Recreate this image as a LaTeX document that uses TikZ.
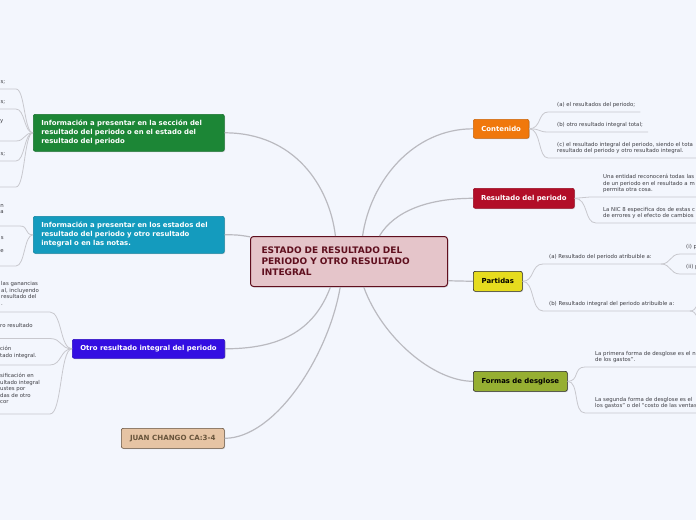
\documentclass[tikz,border=0pt]{standalone}
\usepackage{fontspec}
\setmainfont{DejaVu Sans}
\usepackage{tikz}
\usetikzlibrary{shadows}
\definecolor{bgblue}{RGB}{243,246,253}
\definecolor{linkgray}{RGB}{200,200,206}
\definecolor{trunkgray}{RGB}{186,186,192}
\definecolor{leafgray}{RGB}{62,62,68}
\definecolor{maroonline}{RGB}{95,15,30}
\definecolor{pinkfill}{RGB}{229,197,202}
\definecolor{boxgreen}{RGB}{28,134,54}
\definecolor{boxteal}{RGB}{20,155,190}
\definecolor{boxviolet}{RGB}{52,14,226}
\definecolor{boxtan}{RGB}{230,196,164}
\definecolor{tanline}{RGB}{100,80,60}
\definecolor{tantext}{RGB}{105,85,60}
\definecolor{boxorange}{RGB}{240,120,12}
\definecolor{boxcrimson}{RGB}{178,14,40}
\definecolor{boxyellow}{RGB}{230,220,30}
\definecolor{boxolive}{RGB}{150,175,50}

\begin{document}
\begin{tikzpicture}[
  x=1pt, y=-1pt,
  topic/.style={draw, rounded corners=2pt, anchor=north west, inner xsep=8pt, inner ysep=0pt,
                font=\fontsize{6.9}{9}\selectfont\bfseries, text=white, line width=0.6pt,
                drop shadow={shadow xshift=0.8pt, shadow yshift=-0.8pt, opacity=0.3}},
  leaf/.style={inner sep=0pt, text depth=1.3pt, align=left,
               font=\fontsize{5.4}{6.6}\selectfont, text=leafgray},
  trunk/.style={draw=trunkgray, line width=1.2pt},
  branch/.style={draw=linkgray, line width=0.8pt}
]
  \fill[bgblue] (0,0) rectangle (696,520);
  \useasboundingbox (0,0) rectangle (696,520);

  % main topics
  \node[topic, fill=pinkfill, draw=maroonline, line width=1pt, rounded corners=3pt, text=maroonline,
        font=\fontsize{9}{11}\selectfont\bfseries, inner xsep=11pt, minimum width=197pt,
        minimum height=50pt, text width=175pt, align=left] (centro) at (250,236)
    {ESTADO DE RESULTADO DEL\\PERIODO Y OTRO RESULTADO\\INTEGRAL};

  \node[topic, fill=boxgreen, draw=boxgreen!85!black, minimum width=191pt, minimum height=37pt,
        text width=175pt, align=left] (infoseccion) at (33,114)
    {Información a presentar en la sección del\\resultado del periodo o en el estado del\\resultado del periodo};
  \node[topic, fill=boxteal, draw=boxteal!85!black, minimum width=191pt, minimum height=37pt,
        text width=175pt, align=left] (infoestados) at (33,216)
    {Información a presentar en los estados del\\resultado del periodo y otro resultado\\integral o en las notas.};
  \node[topic, fill=boxviolet, draw=boxviolet!85!black, minimum width=152pt, minimum height=19pt] (otroresultado) at (72,339)
    {Otro resultado integral del periodo};
  \node[topic, fill=boxtan, draw=tanline, text=tantext, font=\fontsize{7.1}{8}\selectfont\bfseries,
        minimum width=103pt, minimum height=20pt] (autor) at (121,428) {JUAN CHANGO CA:3-4};

  \node[topic, fill=boxorange, draw=boxorange!85!black, minimum width=55pt, minimum height=19pt] (contenido) at (473,119) {Contenido};
  \node[topic, fill=boxcrimson, draw=boxcrimson!85!black, minimum width=101pt, minimum height=20pt, inner xsep=6pt] (resultado) at (473,188) {Resultado del periodo};
  \node[topic, fill=boxyellow, draw=black!85, text=black, minimum width=49pt, minimum height=20pt] (partidas) at (473,271) {Partidas};
  \node[topic, fill=boxolive, draw=black!85, text=black, minimum width=94pt, minimum height=20pt] (formas) at (473,371) {Formas de desglose};

  % trunk links
  \draw[trunk] (centro.118) .. controls +(-6,-50) and +(70,0) .. (infoseccion.east);
  \draw[trunk] (centro.166) .. controls +(-12,-2) and +(12,0) .. (infoestados.east);
  \draw[trunk] (centro.234) .. controls +(-15,40) and +(60,0) .. (otroresultado.east);
  \draw[trunk] (centro.251) .. controls +(-12,70) and +(50,0) .. (autor.east);
  \draw[trunk] (centro.62) .. controls +(8,-55) and +(-60,0) .. (contenido.west);
  \draw[trunk] (centro.40) .. controls +(15,-25) and +(-45,0) .. (resultado.west);
  \draw[trunk] (centro.349) -- (partidas.west);
  \draw[trunk] (centro.300) .. controls +(18,50) and +(-40,0) .. (formas.west);

  % Contenido
  \coordinate (conta) at (548,112);
  \coordinate (contb) at (548,132);
  \coordinate (contc) at (548,158);
  \node[leaf, anchor=south west] (tconta) at (557,108.3) {(a) el resultados del periodo;};
  \node[leaf, anchor=south west] (tcontb) at (557,128.3) {(b) otro resultado integral total;};
  \node[leaf, anchor=south west] (tcontc) at (557,154.3)
    {(c) el resultado integral del periodo, siendo el tota\\resultado del periodo y otro resultado integral.};
  \draw[branch] (contenido.east) .. controls +(12,0) and +(-10,0) .. (conta) -- (conta -| tconta.east) -- +(5,0);
  \draw[branch] (contenido.east) .. controls +(12,0) and +(-10,0) .. (contb) -- (contb -| tcontb.east) -- +(5,0);
  \draw[branch] (contenido.east) .. controls +(12,0) and +(-10,0) .. (contc) -- (contc -| tcontc.east) -- +(5,0);

  % Resultado del periodo
  \coordinate (resa) at (590,197);
  \coordinate (resb) at (596,223);
  \node[leaf, anchor=south west] (tresa) at (603,193.3)
    {Una entidad reconocerá todas las\\de un periodo en el resultado a m\\permita otra cosa.};
  \node[leaf, anchor=south west] (tresb) at (603,219.3)
    {La NIC 8 especifica dos de estas c\\de errores y el efecto de cambios};
  \draw[branch] (resultado.east) .. controls +(8,0) and +(-8,0) .. (resa) -- (resa -| tresa.east) -- +(5,0);
  \draw[branch] (resultado.east) .. controls +(14,0) and +(-12,0) .. (resb) -- (resb -| tresb.east) -- +(5,0);

  % Partidas
  \coordinate (parta) at (543,264);
  \coordinate (partb) at (543,311);
  \coordinate (partaj) at (661,264);
  \coordinate (partbj) at (690,311);
  \coordinate (partai) at (680,254);
  \coordinate (partaii) at (680,274);
  \coordinate (partbi) at (704,300);
  \coordinate (partbii) at (704,322);
  \node[leaf, anchor=south west] (tparta) at (549,260.3) {(a) Resultado del periodo atribuible a:};
  \node[leaf, anchor=south west] (tpartb) at (549,307.3) {(b) Resultado integral del periodo atribuible a:};
  \node[leaf, anchor=south west] (tpartai) at (686,250.3) {(i) p};
  \node[leaf, anchor=south west] (tpartaii) at (686,270.3) {(ii) p};
  \draw[branch] (partidas.east) .. controls +(12,0) and +(-12,0) .. (parta) -- (partaj);
  \draw[branch] (partidas.east) .. controls +(12,0) and +(-12,0) .. (partb) -- (partbj);
  \draw[branch] (partaj) .. controls +(10,0) and +(-10,0) .. (partai) -- +(20,0);
  \draw[branch] (partaj) .. controls +(10,0) and +(-10,0) .. (partaii) -- +(20,0);
  \draw[branch] (partbj) .. controls +(8,0) and +(-8,0) .. (partbi);
  \draw[branch] (partbj) .. controls +(8,0) and +(-8,0) .. (partbii);

  % Formas de desglose
  \coordinate (forma) at (585,367);
  \coordinate (formb) at (585,413);
  \node[leaf, anchor=south west] (tforma) at (595,363.3)
    {La primera forma de desglose es el n\\de los gastos”.};
  \node[leaf, anchor=south west] (tformb) at (595,409.3)
    {La segunda forma de desglose es el\\los gastos” o del “costo de las ventas};
  \draw[branch] (formas.east) .. controls +(12,0) and +(-12,0) .. (forma) -- +(120,0);
  \draw[branch] (formas.east) .. controls +(12,0) and +(-12,0) .. (formb) -- +(120,0);

  % left: seccion del resultado
  \coordinate (verdea) at (16,89);
  \coordinate (verdeb) at (16,109);
  \coordinate (verdec) at (16,141);
  \coordinate (verded) at (16,161);
  \coordinate (verdee) at (16,187);
  \node[leaf, anchor=south east] (tverdea) at (5.5,85.3) {s;};
  \node[leaf, anchor=south east] (tverdeb) at (5.5,105.3) {s;};
  \node[leaf, anchor=base east] (tverdec) at (3.5,122) {y};
  \node[leaf, anchor=south east] (tverded) at (5.5,157.3) {s;};
  \foreach \hoja in {verdea,verdeb,verdec,verded,verdee}
    \draw[branch] (infoseccion.west) .. controls +(-9,0) and +(9,0) .. (\hoja) -- +(-30,0);

  % left: estados del resultado
  \coordinate (azula) at (20,226);
  \coordinate (azulb) at (16,266);
  \node[leaf, anchor=south east, align=right] (tazula) at (4,215.3) {n\\a};
  \node[leaf, anchor=south east, align=right] (tazulb) at (4,254.3) {s\\\mbox{}\\e};
  \foreach \hoja in {azula,azulb}
    \draw[branch] (infoestados.west) .. controls +(-9,0) and +(9,0) .. (\hoja) -- +(-30,0);

  % left: otro resultado integral
  \coordinate (violetaa) at (50,312);
  \coordinate (violetab) at (50,338.5);
  \coordinate (violetac) at (50,365);
  \coordinate (violetad) at (50,414);
  \node[leaf, anchor=south west] (tvioletaa) at (1,306.8) {las ganancias\\al, incluyendo\\resultado del\\.};
  \node[leaf, anchor=base west] (tvioletab) at (0,327) {ro resultado};
  \node[leaf, anchor=south west] (tvioletac) at (0,358.8) {ción\\tado integral.};
  \node[leaf, anchor=south west] (tvioletad) at (0,405.3)
    {sificación en\\ultado integral\\ustes por\\das de otro\\cor};
  \foreach \hoja in {violetaa,violetab,violetac,violetad}
    \draw[branch] (otroresultado.west) .. controls +(-12,0) and +(12,0) .. (\hoja) -- +(-60,0);
\end{tikzpicture}
\end{document}
